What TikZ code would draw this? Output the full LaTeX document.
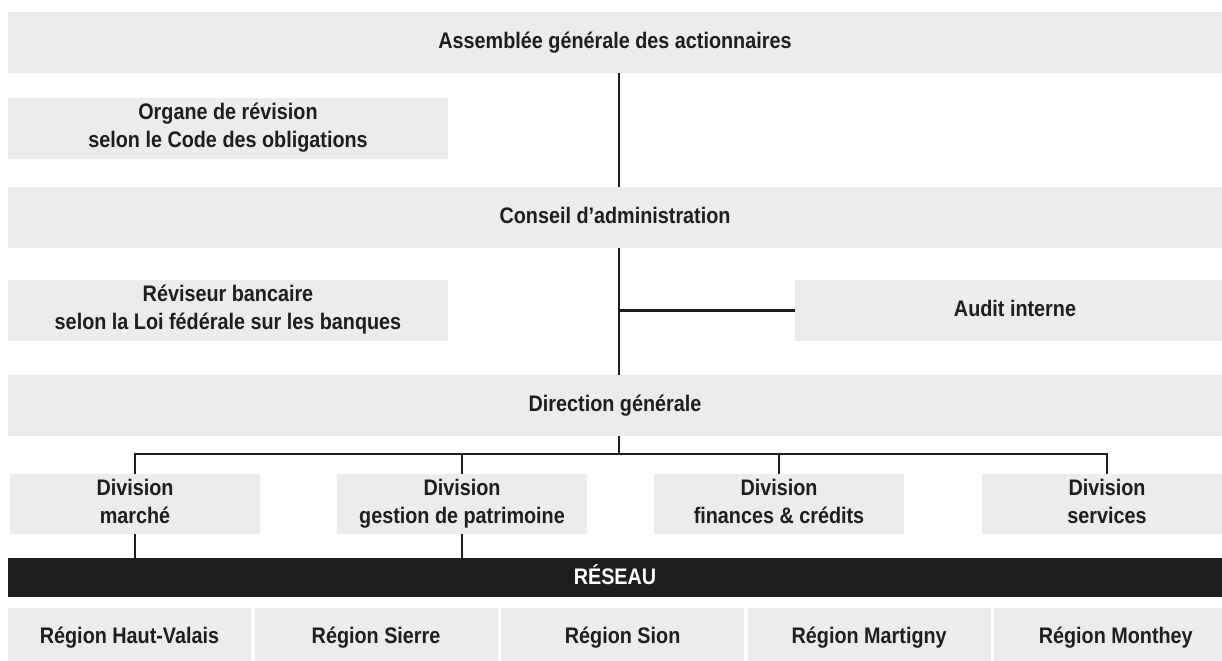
\documentclass[tikz,border=0pt]{standalone}
\usepackage{fontspec}
\usepackage{tikz}
\usetikzlibrary{positioning}
\usetikzlibrary{calc}

\newfontfamily\orgfont{Liberation Sans}[FakeStretch=0.88]
\newcommand\orgstrut{\rule[-4.4pt]{0pt}{17pt}}
\definecolor{boxgrey}{HTML}{ECECEC}
\definecolor{inkdark}{HTML}{1E1E1C}

\begin{document}
\begin{tikzpicture}[
    box/.style={fill=boxgrey, text=inkdark, align=center, inner sep=0pt,
        font=\orgfont\bfseries\fontsize{16}{20}\selectfont,
        execute at begin node=\orgstrut, execute at end node=\orgstrut},
    wide/.style={box, minimum width=30.35cm, minimum height=1.525cm},
    side/.style={box, minimum width=11cm, minimum height=1.525cm},
    division/.style={box, minimum width=6.25cm, minimum height=1.5cm},
    region/.style={box, minimum width=6.075cm, minimum height=1.5cm},
    link/.style={draw=inkdark, line width=1.6pt}
]
    \useasboundingbox (0,0) rectangle (30.55,-16.5);
    \begin{scope}
        \clip (0,0) rectangle (30.55,-16.5);

        % top levels
        \node[wide] (asm) at (15.375,-1.0625) {Assemblée générale des actionnaires};
        \node[side] (organe) at (5.7,-3.2) {Organe de révision\\selon le Code des obligations};
        \node[wide] (conseil) at (15.375,-5.4375) {Conseil d’administration};
        \node[side] (reviseur) at (5.7,-7.7625) {Réviseur bancaire\\selon la Loi fédérale sur les banques};
        \node[side] (audit) at (25.375,-7.7625) {Audit interne};
        \node[wide] (direction) at (15.375,-10.1375) {Direction générale};

        % divisions
        \node[division] (marche) at (3.375,-12.6) {Division\\marché};
        \node[division] (gestion) at (11.55,-12.6) {Division\\gestion de patrimoine};
        \node[division] (finances) at (19.475,-12.6) {Division\\finances \& crédits};
        \node[division] (services) at (27.675,-12.6) {Division\\services};

        % network
        \node[wide, fill=inkdark, text=white, minimum height=0.975cm] (reseau) at (15.375,-14.4375) {RÉSEAU};
        \node[region] (r1) at (3.2375,-15.95) {Région Haut-Valais};
        \node[region, right=0.075cm of r1] (r2) {Région Sierre};
        \node[region, right=0.075cm of r2] (r3) {Région Sion};
        \node[region, right=0.075cm of r3] (r4) {Région Martigny};
        \node[region, right=0.075cm of r4] (r5) {Région Monthey};

        % connectors
        \coordinate (spine) at (15.475,0);
        \coordinate (fork) at (0,-11.35);
        \draw[link] (asm.south -| spine) -- (conseil.north -| spine);
        \draw[link] (conseil.south -| spine) -- (direction.north -| spine);
        \draw[link] (audit.west) -- (audit.west -| spine);
        \draw[link] (direction.south -| spine) -- (fork -| spine);
        \draw[link] (marche.north) |- (fork -| services.north) -- (services.north);
        \draw[link] (gestion.north) -- (gestion.north |- fork);
        \draw[link] (finances.north) -- (finances.north |- fork);
        \draw[link] (marche.south) -- (reseau.north -| marche.south);
        \draw[link] (gestion.south) -- (reseau.north -| gestion.south);
    \end{scope}
\end{tikzpicture}
\end{document}
